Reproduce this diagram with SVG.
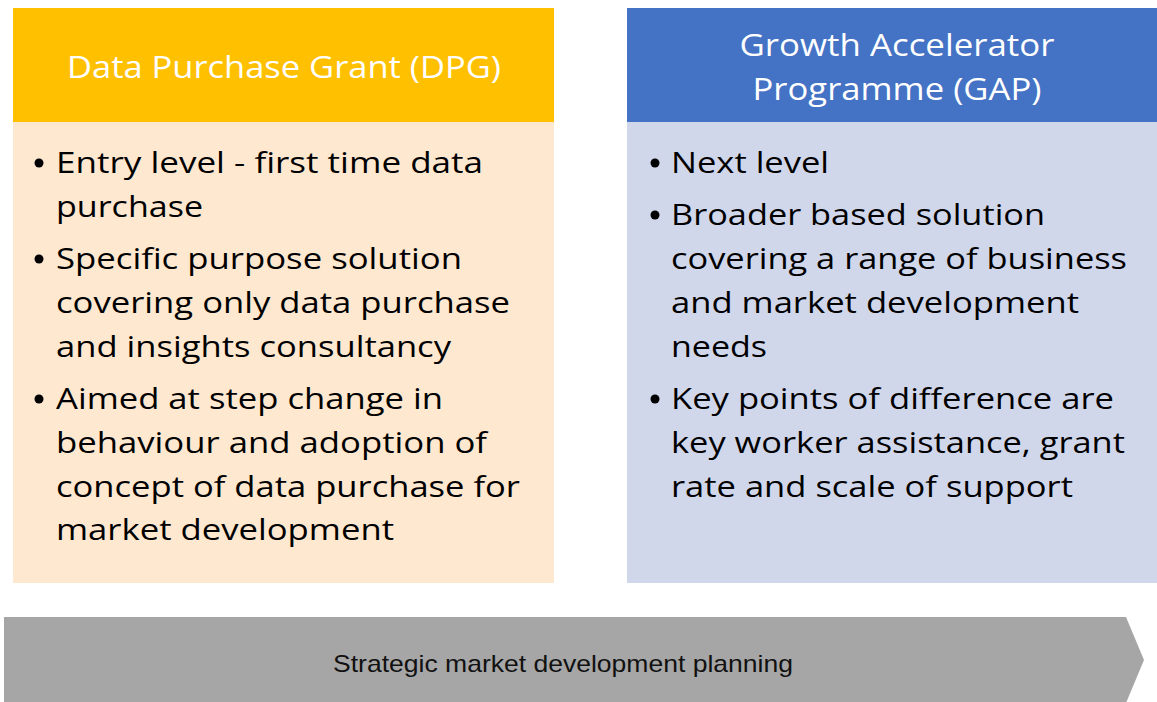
<svg xmlns="http://www.w3.org/2000/svg" width="1157" height="702" viewBox="0 0 1157 702">
  <style>
    .head { font-family: "Open Sans", "Liberation Sans", sans-serif; font-size: 31px; fill: #ffffff; text-anchor: middle; }
    .item { font-family: "Open Sans", "Liberation Sans", sans-serif; font-size: 30px; fill: #000000; }
    .band { font-family: "Liberation Sans", Arial, sans-serif; font-size: 24px; fill: #111111; text-anchor: middle; }
  </style>
  <rect width="1157" height="702" fill="#ffffff"/>

  <!-- Data Purchase Grant column -->
  <g id="dpg">
    <rect x="13" y="8" width="541" height="114" fill="#FFC000"/>
    <rect x="13" y="122" width="541" height="461" fill="#FEE8D0"/>
    <text class="head" x="284" y="78" textLength="434" lengthAdjust="spacingAndGlyphs">Data Purchase Grant (DPG)</text>
    <circle cx="39" cy="163" r="4.5"/>
    <circle cx="39" cy="259" r="4.5"/>
    <circle cx="39" cy="399" r="4.5"/>
    <text class="item" x="56" y="173" textLength="427" lengthAdjust="spacingAndGlyphs">Entry level - first time data</text>
    <text class="item" x="56" y="217" textLength="147" lengthAdjust="spacingAndGlyphs">purchase</text>
    <text class="item" x="56" y="269" textLength="406" lengthAdjust="spacingAndGlyphs">Specific purpose solution</text>
    <text class="item" x="56" y="313" textLength="454" lengthAdjust="spacingAndGlyphs">covering only data purchase</text>
    <text class="item" x="56" y="357" textLength="395" lengthAdjust="spacingAndGlyphs">and insights consultancy</text>
    <text class="item" x="56" y="409" textLength="387" lengthAdjust="spacingAndGlyphs">Aimed at step change in</text>
    <text class="item" x="56" y="453" textLength="431" lengthAdjust="spacingAndGlyphs">behaviour and adoption of</text>
    <text class="item" x="56" y="497" textLength="464" lengthAdjust="spacingAndGlyphs">concept of data purchase for</text>
    <text class="item" x="56" y="540" textLength="338" lengthAdjust="spacingAndGlyphs">market development</text>
  </g>

  <!-- Growth Accelerator Programme column -->
  <g id="gap">
    <rect x="627" y="8" width="530" height="114" fill="#4472C4"/>
    <rect x="627" y="122" width="530" height="461" fill="#D1D7EB"/>
    <text class="head" x="897" y="56" textLength="315" lengthAdjust="spacingAndGlyphs">Growth Accelerator</text>
    <text class="head" x="897" y="100" textLength="289" lengthAdjust="spacingAndGlyphs">Programme (GAP)</text>
    <circle cx="655" cy="163" r="4.5"/>
    <circle cx="655" cy="215" r="4.5"/>
    <circle cx="655" cy="399" r="4.5"/>
    <text class="item" x="671" y="173" textLength="158" lengthAdjust="spacingAndGlyphs">Next level</text>
    <text class="item" x="671" y="225" textLength="374" lengthAdjust="spacingAndGlyphs">Broader based solution</text>
    <text class="item" x="671" y="269" textLength="456" lengthAdjust="spacingAndGlyphs">covering a range of business</text>
    <text class="item" x="671" y="313" textLength="408" lengthAdjust="spacingAndGlyphs">and market development</text>
    <text class="item" x="671" y="357" textLength="96" lengthAdjust="spacingAndGlyphs">needs</text>
    <text class="item" x="671" y="409" textLength="443" lengthAdjust="spacingAndGlyphs">Key points of difference are</text>
    <text class="item" x="671" y="453" textLength="454" lengthAdjust="spacingAndGlyphs">key worker assistance, grant</text>
    <text class="item" x="671" y="497" textLength="402" lengthAdjust="spacingAndGlyphs">rate and scale of support</text>
  </g>

  <!-- Planning band (chevron) -->
  <g id="planning">
    <polygon points="4,617 1126,617 1144,660 1126,703 4,703" fill="#A6A6A6"/>
    <text class="band" x="563" y="672" textLength="460" lengthAdjust="spacingAndGlyphs">Strategic market development planning</text>
  </g>
</svg>
